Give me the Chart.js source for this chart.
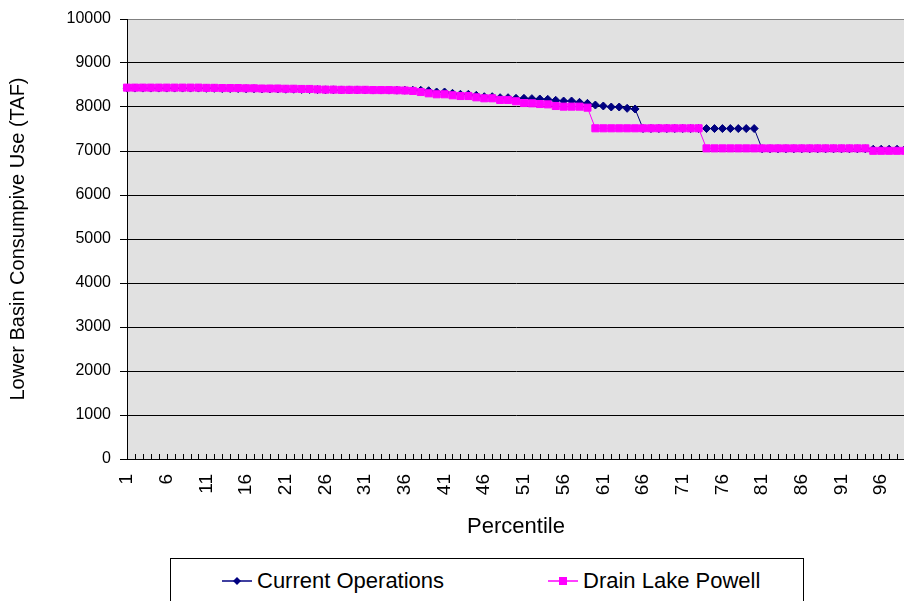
<!DOCTYPE html>
<html>
<head>
<meta charset="utf-8">
<script src="https://cdn.jsdelivr.net/npm/chart.js@4.4.0/dist/chart.umd.min.js"></script>
<style>
  html, body { margin: 0; padding: 0; background: #fff; overflow: hidden; width: 904px; height: 601px; }
  #chart { position: absolute; left: 0; top: 0; }
  #legend {
    position: absolute; left: 170px; top: 558px; width: 632px; height: 60px;
    border: 1px solid #000; font: 22px "Liberation Sans", Arial, sans-serif; color: #000;
  }
  .item { position: absolute; top: 9px; display: flex; align-items: center; white-space: nowrap; line-height: 26px; }
  .item svg { margin-right: 5px; }
</style>
</head>
<body>
<canvas id="chart" width="912" height="545"></canvas>
<div id="legend">
  <div class="item" style="left:51px">
    <svg width="30" height="12"><line x1="0" y1="6" x2="30" y2="6" stroke="#000080" stroke-width="1.5"/><polygon points="15,2 19,6 15,10 11,6" fill="#000080"/></svg>
    <span>Current Operations</span>
  </div>
  <div class="item" style="left:377px">
    <svg width="30" height="12"><line x1="0" y1="6" x2="30" y2="6" stroke="#ff00ff" stroke-width="1.5"/><rect x="11" y="2" width="8" height="8" fill="#ff00ff"/></svg>
    <span>Drain Lake Powell</span>
  </div>
</div>
<script>
// percentiles on the x axis
const percentiles = [
  "1","2","3","4","5","6","7","8","9","10",
  "11","12","13","14","15","16","17","18","19","20",
  "21","22","23","24","25","26","27","28","29","30",
  "31","32","33","34","35","36","37","38","39","40",
  "41","42","43","44","45","46","47","48","49","50",
  "51","52","53","54","55","56","57","58","59","60",
  "61","62","63","64","65","66","67","68","69","70",
  "71","72","73","74","75","76","77","78","79","80",
  "81","82","83","84","85","86","87","88","89","90",
  "91","92","93","94","95","96","97","98","99"
];

// Lower Basin consumptive use (TAF)
const currentOps = [
  8430, 8430, 8430, 8430, 8430, 8430, 8430, 8430, 8430, 8430,
  8425, 8425, 8420, 8420, 8420, 8415, 8415, 8410, 8410, 8410,
  8405, 8405, 8400, 8400, 8395, 8390, 8390, 8388, 8388, 8388,
  8386, 8385, 8385, 8384, 8383, 8382, 8381, 8380, 8370, 8341,
  8341, 8311, 8289, 8289, 8266, 8234, 8234, 8211, 8211, 8197,
  8197, 8190, 8182, 8174, 8152, 8136, 8136, 8106, 8083, 8045,
  8023, 8000, 8000, 7970, 7955, 7510, 7510, 7510, 7510, 7510,
  7510, 7510, 7510, 7510, 7510, 7510, 7510, 7510, 7510, 7510,
  7050, 7050, 7050, 7050, 7050, 7050, 7050, 7050, 7050, 7050,
  7050, 7050, 7050, 7050, 7040, 7040, 7040, 7040, 7040
];

const drainPowell = [
  8440, 8440, 8440, 8440, 8440, 8440, 8440, 8440, 8440, 8440,
  8435, 8435, 8430, 8430, 8430, 8425, 8425, 8420, 8420, 8420,
  8415, 8415, 8410, 8410, 8400, 8395, 8395, 8390, 8390, 8390,
  8390, 8385, 8385, 8385, 8380, 8375, 8365, 8341, 8311, 8289,
  8289, 8266, 8250, 8250, 8220, 8198, 8198, 8161, 8161, 8130,
  8090, 8083, 8068, 8060, 8023, 8008, 8008, 8008, 7985, 7516,
  7516, 7516, 7516, 7516, 7516, 7516, 7516, 7516, 7516, 7516,
  7516, 7516, 7516, 7060, 7060, 7060, 7060, 7060, 7060, 7060,
  7060, 7060, 7060, 7060, 7060, 7060, 7060, 7060, 7060, 7060,
  7060, 7060, 7060, 7060, 7005, 7005, 7005, 7005, 7005
];

const FONT = "'Liberation Sans', Arial, sans-serif";

// grey plot area
const plotBg = {
  id: "plotBg",
  beforeDraw(chart) {
    const { ctx, chartArea: a } = chart;
    ctx.save();
    ctx.fillStyle = "#e1e1e1";
    ctx.fillRect(a.left, a.top, a.right - a.left, a.bottom - a.top);
    ctx.restore();
  },
};

// small tick marks pointing into the plot on the category axis
const innerTicks = {
  id: "innerTicks",
  afterDatasetsDraw(chart) {
    const { ctx, chartArea: a } = chart;
    const xs = chart.scales.x;
    ctx.save();
    ctx.strokeStyle = "#000";
    ctx.lineWidth = 1;
    ctx.beginPath();
    xs.ticks.forEach((t, i) => {
      const px = Math.round(xs.getPixelForTick(i)) + 0.5;
      ctx.moveTo(px, a.bottom);
      ctx.lineTo(px, a.bottom - 5);
    });
    ctx.stroke();
    ctx.restore();
  },
};

new Chart(document.getElementById("chart"), {
  type: "line",
  data: {
    labels: percentiles,
    datasets: [
      {
        label: "Current Operations",
        data: currentOps,
        borderColor: "#000080",
        backgroundColor: "#000080",
        borderWidth: 1,
        pointStyle: "rectRot",
        pointRadius: 4,
        pointBorderWidth: 1,
        tension: 0,
        order: 1,
      },
      {
        label: "Drain Lake Powell",
        data: drainPowell,
        borderColor: "#ff00ff",
        backgroundColor: "#ff00ff",
        borderWidth: 1,
        pointStyle: "rect",
        pointRadius: 5,
        pointBorderWidth: 1,
        tension: 0,
        order: 0,
      },
    ],
  },
  options: {
    responsive: false,
    animation: false,
    layout: { padding: { top: 19, right: 7, left: 0, bottom: 0 } },
    plugins: {
      legend: { display: false },
      tooltip: { enabled: false },
    },
    scales: {
      x: {
        offset: false,
        ticks: {
          autoSkip: false,
          minRotation: 90,
          maxRotation: 90,
          padding: 15,
          color: "#000",
          font: { size: 19, family: FONT },
          callback: function (v, i) {
            return i % 5 === 0 ? this.getLabelForValue(v) : "";
          },
        },
        grid: { display: true, drawOnChartArea: false, drawTicks: false },
        border: { color: "#000" },
        title: {
          display: true,
          text: "Percentile",
          color: "#000",
          font: { size: 22, family: FONT },
          padding: { top: 0, bottom: 5 },
        },
        afterFit: (s) => {
          s.height = 86;
          s.paddingLeft = 0;
          s.paddingRight = 0;
        },
      },
      y: {
        min: 0,
        max: 10000,
        ticks: {
          stepSize: 1000,
          padding: 9,
          color: "#000",
          font: { size: 16, family: FONT },
          callback: (v) => String(v),
        },
        grid: {
          color: (c) => (c.tick && c.tick.value === 10000 ? "#808080" : "#000"),
          tickColor: "#000",
          tickLength: 7,
          lineWidth: 1,
        },
        border: { color: "#000" },
        title: {
          display: true,
          text: "Lower Basin Consumpive Use (TAF)",
          color: "#000",
          font: { size: 20, family: FONT },
          padding: { top: 6, bottom: 0 },
        },
        afterFit: (s) => { s.width = 127; },
      },
    },
  },
  plugins: [plotBg, innerTicks],
});
</script>
</body>
</html>
